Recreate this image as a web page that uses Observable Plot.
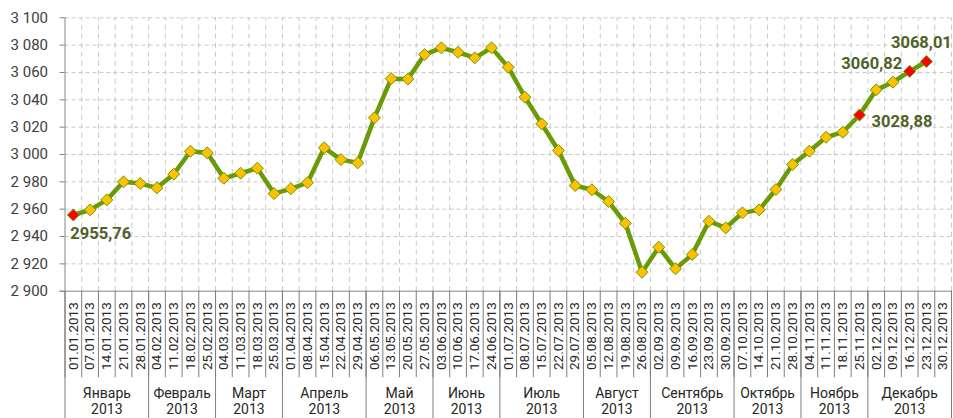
<!DOCTYPE html>
<html>
<head>
<meta charset="utf-8">
<script src="https://cdn.jsdelivr.net/npm/d3@7"></script>
<script src="https://cdn.jsdelivr.net/npm/@observablehq/plot@0.6"></script>
<style>
  html, body { margin: 0; padding: 0; background: #ffffff; }
  #chart svg { display: block; }
</style>
</head>
<body>
<div id="chart"></div>
<script>
// ---- data ----
const dates = [
  "01.01.2013","07.01.2013","14.01.2013","21.01.2013","28.01.2013",
  "04.02.2013","11.02.2013","18.02.2013","25.02.2013",
  "04.03.2013","11.03.2013","18.03.2013","25.03.2013",
  "01.04.2013","08.04.2013","15.04.2013","22.04.2013","29.04.2013",
  "06.05.2013","13.05.2013","20.05.2013","27.05.2013",
  "03.06.2013","10.06.2013","17.06.2013","24.06.2013",
  "01.07.2013","08.07.2013","15.07.2013","22.07.2013","29.07.2013",
  "05.08.2013","12.08.2013","19.08.2013","26.08.2013",
  "02.09.2013","09.09.2013","16.09.2013","23.09.2013","30.09.2013",
  "07.10.2013","14.10.2013","21.10.2013","28.10.2013",
  "04.11.2013","11.11.2013","18.11.2013","25.11.2013",
  "02.12.2013","09.12.2013","16.12.2013","23.12.2013","30.12.2013"
];
const values = [
  2955.76, 2959.5, 2966.8, 2980.0, 2978.8,
  2975.6, 2985.6, 3002.4, 3001.2,
  2982.6, 2986.3, 2990.0, 2971.4,
  2974.9, 2979.4, 3004.9, 2996.3, 2993.9,
  3026.8, 3055.5, 3055.2, 3073.1,
  3078.0, 3074.8, 3070.7, 3078.0,
  3063.9, 3041.9, 3022.4, 3002.9, 2977.3,
  2974.2, 2965.6, 2949.7, 2913.9,
  2932.2, 2916.4, 2926.8, 2951.2, 2946.3,
  2957.3, 2959.5, 2974.4, 2992.7,
  3002.4, 3012.6, 3016.3, 3028.88,
  3047.3, 3052.9, 3060.82, 3068.01
];
const monthNames = ["Январь","Февраль","Март","Апрель","Май","Июнь","Июль","Август","Сентябрь","Октябрь","Ноябрь","Декабрь"];
const yearLabel = "2013";
const yTicks = [2900, 2920, 2940, 2960, 2980, 3000, 3020, 3040, 3060, 3080, 3100];
const highlightedIdx = [0, 47, 50, 51];

// ---- layout ----
const W = 953, H = 418;
const mt = 17.3, mb = 127.3, ml = 64.5, mr = 2;
const yMin = 2900, yMax = 3100;
const ppu = (H - mt - mb) / (yMax - yMin);        // px per y unit
const ppx = (W - ml - mr) / dates.length;          // px per category
const below = px => yMin - px / ppu;               // y value px below axis
const tickLen = 5 / ppx;

const fmtTick = d => String(d).replace(/\B(?=(\d{3})+(?!\d))/g, "\u00a0");
const fmtVal = v => v.toFixed(2).replace(".", ",");

const points = values.map((v, i) => ({i, v, date: dates[i]}));
const normalPts = points.filter(d => !highlightedIdx.includes(d.i));
const redPts = points.filter(d => highlightedIdx.includes(d.i));

// month groups from dates
const groups = [];
dates.forEach((d, i) => {
  const m = +d.slice(3, 5) - 1;
  let g = groups.find(g => g.m === m);
  if (!g) { g = {m, name: monthNames[m], first: i, last: i}; groups.push(g); }
  g.last = i;
});
groups.forEach(g => g.center = (g.first + g.last) / 2);
const monthBounds = groups.map(g => g.first - 0.5).concat([dates.length - 0.5]);
const colBounds = d3.range(0, dates.length + 1).map(i => i - 0.5);

const lineColor = "#6a9a06";
const labelColor = "#4f6228";
const lbl = {fontSize: 16.5, fontWeight: "bold", fill: labelColor, text: d => fmtVal(d.v)};

const chart = Plot.plot({
  width: W, height: H,
  marginTop: mt, marginBottom: mb, marginLeft: ml, marginRight: mr,
  x: {type: "linear", domain: [-0.5, dates.length - 0.5], axis: null},
  y: {type: "linear", domain: [yMin, yMax], axis: null},
  style: {fontFamily: "Roboto, 'Noto Sans', sans-serif", background: "#ffffff", overflow: "visible"},
  marks: [
    // gridlines
    Plot.ruleY(yTicks.slice(1), {x1: -0.5, x2: dates.length - 0.5, stroke: "#c8c8c8", strokeDasharray: "4 3"}),
    Plot.ruleX(colBounds.slice(1), {y1: yMin, y2: yMax, stroke: "#c8c8c8", strokeDasharray: "5 4"}),
    // category table below the axis
    Plot.ruleX(colBounds, {y1: yMin, y2: below(86.5), stroke: "#7f7f7f"}),
    Plot.ruleX(monthBounds, {y1: yMin, y2: below(H), stroke: "#7f7f7f"}),
    // axes
    Plot.ruleX([-0.5], {y1: yMin, y2: yMax, stroke: "#868686"}),
    Plot.ruleY(yTicks, {x1: -0.5 - tickLen, x2: -0.5, stroke: "#868686"}),
    Plot.ruleY([yMin], {x1: -0.5 - tickLen, x2: dates.length - 0.5, stroke: "#868686"}),
    Plot.text(yTicks, {x: -0.5, y: d => d, text: fmtTick, dx: -17, textAnchor: "end", fontSize: 15, fill: "#404040"}),
    Plot.text(dates, {x: (d, i) => i, y: yMin, dy: 11, rotate: -90, textAnchor: "end", fontSize: 13.5, fill: "#262626"}),
    Plot.text(groups, {x: "center", y: yMin, dy: 110, text: d => d.name + "\n" + yearLabel, lineAnchor: "middle", lineHeight: 1.15, fontSize: 14, fill: "#262626"}),
    // series
    Plot.line(points, {x: "i", y: "v", stroke: lineColor, strokeWidth: 4.5, strokeLinejoin: "round"}),
    Plot.dot(normalPts, {x: "i", y: "v", symbol: "diamond2", r: 5.4, fill: "#ffc000", stroke: lineColor, strokeWidth: 1}),
    Plot.dot(redPts, {x: "i", y: "v", symbol: "diamond2", r: 5.4, fill: "#ff0000", stroke: lineColor, strokeWidth: 1}),
    // data labels
    Plot.text([points[0]], {x: "i", y: "v", ...lbl, textAnchor: "start", dx: -3, dy: 19}),
    Plot.text([points[47]], {x: "i", y: "v", ...lbl, textAnchor: "start", dx: 12, dy: 6.5}),
    Plot.text([points[50]], {x: "i", y: "v", ...lbl, textAnchor: "end", dx: -7.5, dy: -8}),
    Plot.text([points[51]], {x: "i", y: "v", ...lbl, textAnchor: "middle", dx: -5, dy: -18.5})
  ]
});
document.getElementById("chart").appendChild(chart);
</script>
</body>
</html>
